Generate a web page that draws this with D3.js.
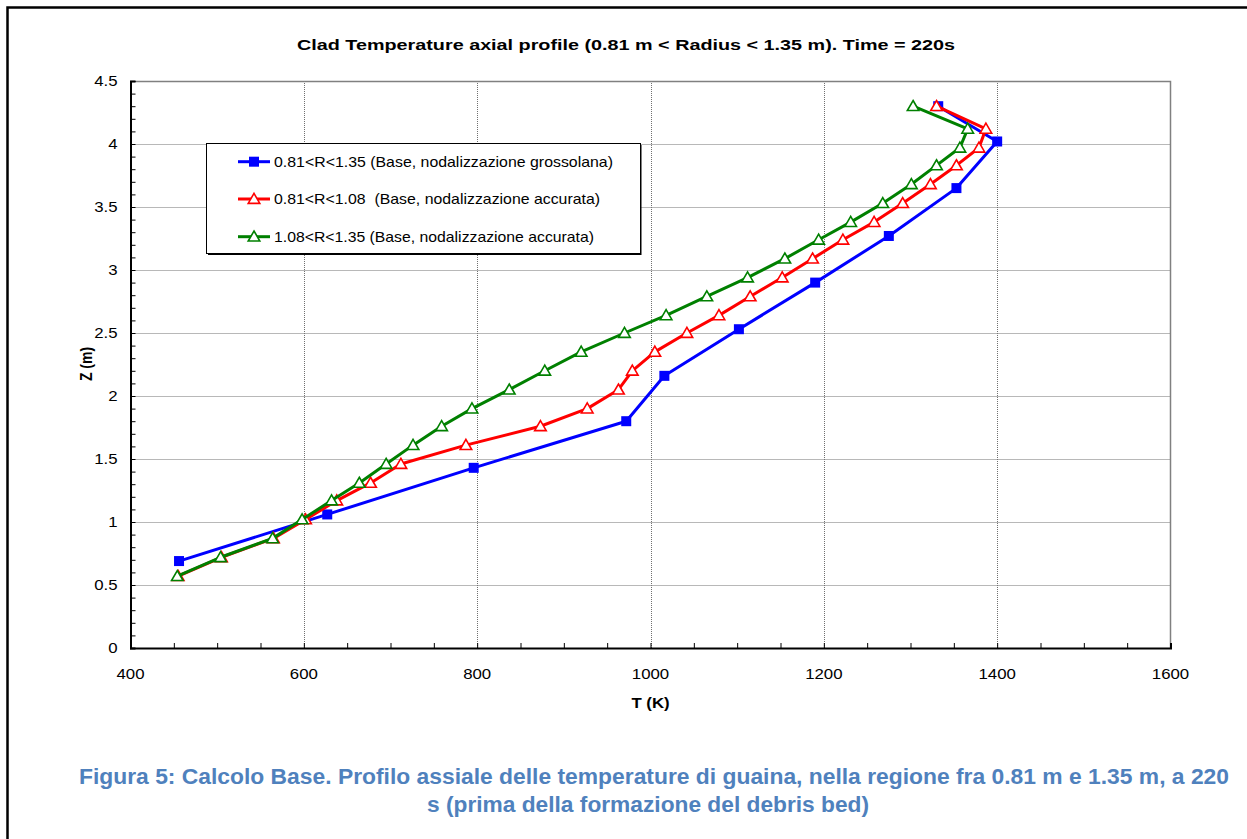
<!DOCTYPE html>
<html><head><meta charset="utf-8">
<script src="https://cdn.jsdelivr.net/npm/d3@7"></script>
<style>body{margin:0;background:#fff;}svg{display:block;font-family:"Liberation Sans",Arial,sans-serif;}</style>
</head><body>
<svg id="c" width="1247" height="839"></svg>
<script>
const zLevels = [0.57,0.72,0.87,1.02,1.17,1.31,1.46,1.61,1.76,1.90,2.05,2.20,2.35,2.50,2.64,2.79,2.94,3.09,3.24,3.38,3.53,3.68,3.83,3.97,4.12,4.30];
const blueT = [456,627,796,972,1016,1102,1190,1275,1353,1400,1332];
const blueZ = [0.69,1.06,1.43,1.80,2.16,2.53,2.90,3.27,3.65,4.02,4.30];
const redT = [455,505,565,602,638,677,712,787,873,927,963,979,1005,1042,1079,1115,1152,1187,1222,1258,1291,1323,1353,1379,1387,1330];
const greenT = [454,504,564,598,632,664,695,726,759,794,837,878,920,970,1018,1065,1112,1155,1194,1231,1268,1301,1330,1357,1366,1303];
const xTicks = [400,600,800,1000,1200,1400,1600];
const yTicks = [0,0.5,1,1.5,2,2.5,3,3.5,4,4.5];
const seriesNames = ["0.81<R<1.35 (Base, nodalizzazione grossolana)","0.81<R<1.08  (Base, nodalizzazione accurata)","1.08<R<1.35 (Base, nodalizzazione accurata)"];
const titleText = "Clad Temperature axial profile (0.81 m < Radius < 1.35 m). Time = 220s";
const captionLines = ["Figura 5: Calcolo Base. Profilo assiale delle temperature di guaina, nella regione fra 0.81 m e 1.35 m, a 220","s (prima della formazione del debris bed)"];

const svg = d3.select("#c");
const L=130.5,R=1170.5,T=81,B=648;
const x = d3.scaleLinear().domain([400,1600]).range([L,R]);
const y = d3.scaleLinear().domain([0,4.5]).range([B,T]);
const SX = 1.2;

function txt(px,py,s,opt){
  opt=opt||{};
  const t = svg.append("text")
    .attr("transform",`translate(${px},${py}) scale(${opt.sx||SX},1)`)
    .attr("text-anchor",opt.anchor||"start")
    .attr("font-size",opt.size||14)
    .attr("font-weight",opt.weight||"normal")
    .attr("fill",opt.fill||"#000")
    .style("white-space","pre")
    .text(s);
  if(opt.len){t.attr("textLength",opt.len/(opt.sx||SX)).attr("lengthAdjust","spacingAndGlyphs");}
  return t;
}

// frame
svg.append("path").attr("d","M7.5,839 L7.5,7.5 L1247,7.5").attr("fill","none").attr("stroke","#000").attr("stroke-width",2.5);

// gridlines
const g = svg.append("g");
g.selectAll(".vg").data(xTicks.slice(1,-1)).join("line")
 .attr("x1",d=>Math.round(x(d))+0.5).attr("x2",d=>Math.round(x(d))+0.5).attr("y1",T).attr("y2",B)
 .attr("stroke","#707070").attr("stroke-width",1).attr("stroke-dasharray","1,1");
g.selectAll(".hg").data(yTicks.slice(1,-1)).join("line")
 .attr("y1",d=>Math.round(y(d))+0.5).attr("y2",d=>Math.round(y(d))+0.5).attr("x1",L).attr("x2",R)
 .attr("stroke","#707070").attr("stroke-width",1).attr("stroke-dasharray","1,1");
svg.append("path").attr("d",`M${L},${T+0.5} L${R},${T+0.5} L${R},${B}`).attr("fill","none").attr("stroke","#808080").attr("stroke-width",1.5);

// axes
const xAxis = d3.axisBottom(x).tickValues(d3.range(400,1601,50)).tickSize(-5).tickFormat("");
const gx = svg.append("g").attr("transform",`translate(0,${B})`).call(xAxis);
gx.select(".domain").attr("stroke","#000").attr("stroke-width",2);
gx.selectAll(".tick line").attr("stroke","#000");
const yAxis = d3.axisLeft(y).tickValues(d3.range(0,46).map(i=>i/10)).tickSize(-5).tickFormat("");
const gy = svg.append("g").attr("transform",`translate(${L},0)`).call(yAxis);
gy.select(".domain").attr("stroke","#000").attr("stroke-width",2);
gy.selectAll(".tick line").attr("stroke","#000");

// tick labels
xTicks.forEach(d=>txt(x(d),B+31,String(d),{anchor:"middle",size:14}));
yTicks.forEach(d=>txt(L-13,y(d)+5,String(d),{anchor:"end",size:14}));

// axis titles
txt((L+R)/2,708,"T (K)",{anchor:"middle",size:14,weight:"bold"});
svg.append("text").attr("transform","translate(92,364) rotate(-90) scale(1,1.2)").attr("text-anchor","middle").attr("font-size",14).attr("font-weight","bold").text("Z (m)");
// title
txt(626,50,titleText,{anchor:"middle",size:15,weight:"bold",len:658});

// series
const colors = ["#0000FF","#FF0000","#008000"];
const blueData = blueT.map((t,i)=>({t,z:blueZ[i]}));
const redData = redT.map((t,i)=>({t,z:zLevels[i]}));
const greenData = greenT.map((t,i)=>({t,z:zLevels[i]}));
const allSeries = [blueData,redData,greenData];
const line = d3.line().x(d=>x(d.t)).y(d=>y(d.z));
const tri = d3.symbol().type(d3.symbolTriangle).size(58);

function marker(sel,k,cx,cy){
  if(k===0){
    sel.append("rect").attr("x",cx-5).attr("y",cy-5).attr("width",10).attr("height",10).attr("fill",colors[0]);
  } else {
    sel.append("path").attr("d",tri()).attr("transform",`translate(${cx},${cy+1})`).attr("fill","#fff").attr("stroke",colors[k]).attr("stroke-width",1.6);
  }
}
allSeries.forEach((data,k)=>{
  const sg = svg.append("g");
  sg.append("path").datum(data).attr("d",line).attr("fill","none").attr("stroke",colors[k]).attr("stroke-width",3).attr("stroke-linejoin","round");
  data.forEach(d=>marker(sg,k,x(d.t),y(d.z)));
});

// legend
const lg = svg.append("g");
lg.append("rect").attr("x",206.5).attr("y",143.5).attr("width",434).attr("height",110).attr("fill","#fff").attr("stroke","#000").attr("stroke-width",1);
lg.append("line").attr("x1",208).attr("x2",641).attr("y1",254.5).attr("y2",254.5).attr("stroke","#000").attr("stroke-width",1);
lg.append("line").attr("x1",641).attr("x2",641).attr("y1",145).attr("y2",255).attr("stroke","#000").attr("stroke-width",1);
const rows=[161.7,199,236.7];
const legLens=[339,326,320];
seriesNames.forEach((n,k)=>{
  lg.append("line").attr("x1",238).attr("x2",270).attr("y1",rows[k]).attr("y2",rows[k]).attr("stroke",colors[k]).attr("stroke-width",3);
  marker(lg,k,254,rows[k]);
  txt(274,rows[k]+5,n,{size:14,len:legLens[k]});
});

// caption
txt(654,784,captionLines[0],{anchor:"middle",size:22,weight:"bold",fill:"#4F81BD",len:1150,sx:1});
txt(648,812,captionLines[1],{anchor:"middle",size:22,weight:"bold",fill:"#4F81BD",len:442,sx:1});
</script>
</body></html>
